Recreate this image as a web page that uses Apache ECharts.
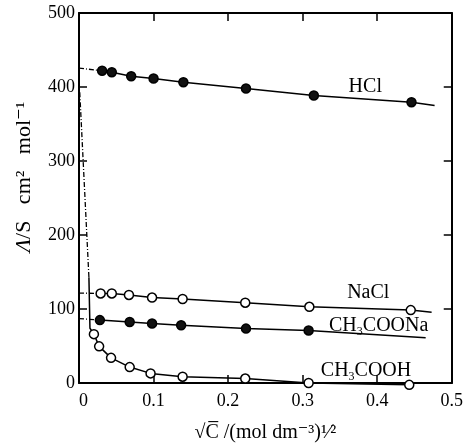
<!DOCTYPE html>
<html lang="en">
<head>
    <meta charset="UTF-8">
    <title>Molar conductivity vs sqrt(C)</title>
    <style>
        html, body { margin: 0; padding: 0; background: #fff; }
        #main { width: 466px; height: 448px; }
    </style>
</head>
<body>
<div id="main"></div>
<script src="https://cdn.jsdelivr.net/npm/echarts@6/dist/echarts.min.js"></script>
<script>
    // measured points: x = sqrt(C), y = molar conductivity
    const hclX = [0.031, 0.044, 0.070, 0.100, 0.140, 0.224, 0.315, 0.446];
    const hclY = [422, 420, 414.5, 411.5, 406.5, 398, 388.5, 379.5];

    const naclX = [0.029, 0.044, 0.067, 0.098, 0.139, 0.223, 0.309, 0.445];
    const naclY = [121, 121, 119, 115.5, 113.5, 108.5, 103, 98.5];

    const naacX = [0.028, 0.068, 0.098, 0.137, 0.224, 0.308];
    const naacY = [85, 82.5, 80.5, 78, 73.5, 71];

    const hacX = [0.020, 0.027, 0.043, 0.068, 0.096, 0.139, 0.223, 0.308, 0.443];
    const hacY = [66, 49.5, 34, 21.5, 13, 8.5, 6, 0, -2.5];

    // extrapolated limits at sqrt(C) = 0 and right-hand line ends
    const hclLimit = [0, 425.5], hclEnd = [0.477, 375];
    const naclLimit = [0, 121.5], naclEnd = [0.473, 95.5];
    const naacLimit = [0, 87], naacEnd = [0.465, 61];
    // acetic acid: dotted rise toward the axis and the solid steep part
    const hacDotted = [[0.001, 393], [0.0133, 143]];
    const hacSteep = [[0.0133, 143], [0.0147, 74]];

    const xTicks = [0, 0.1, 0.2, 0.3, 0.4, 0.5];
    const yTicks = [0, 100, 200, 300, 400, 500];
    const names = ['HCl', 'NaCl', 'CH{s|3}COONa', 'CH{s|3}COOH'];

    const FONT = '"Liberation Serif", "DejaVu Serif", serif';
    const zip = (xs, ys) => xs.map((x, i) => [x, ys[i]]);
    const dashDot = [5, 2, 1, 2];

    function fitLine(limit, pts, end) {
        return [
            { type: 'line', data: [limit, pts[0]], symbol: 'none', silent: true,
              lineStyle: { color: '#000', width: 1.3, type: dashDot } },
            { type: 'line', data: [pts[0]].concat(pts.slice(1), [end]), symbol: 'none', silent: true,
              lineStyle: { color: '#000', width: 1.5 } }
        ];
    }
    function dots(pts, filled) {
        return { type: 'scatter', data: pts, symbol: 'circle', symbolSize: 9, clip: false, z: 5,
                 itemStyle: { color: filled ? '#111' : '#fff', borderColor: '#000', borderWidth: 1.5, opacity: 1 } };
    }

    const hcl = zip(hclX, hclY), nacl = zip(naclX, naclY);
    const naac = zip(naacX, naacY), hac = zip(hacX, hacY);

    const series = [].concat(
        fitLine(hclLimit, hcl, hclEnd),
        fitLine(naclLimit, nacl, naclEnd),
        fitLine(naacLimit, naac, naacEnd),
        [
            { type: 'line', data: hacDotted, symbol: 'none', silent: true,
              lineStyle: { color: '#000', width: 1.3, type: dashDot } },
            { type: 'line', data: hacSteep.concat(hac), symbol: 'none', silent: true, clip: false,
              lineStyle: { color: '#000', width: 1.5 } }
        ],
        dots(hcl, true), dots(nacl, false), dots(naac, true), dots(hac, false),
        {
            type: 'scatter', symbolSize: 0, silent: true, clip: false,
            itemStyle: { opacity: 1 },
            data: [[0.384, 401], [0.388, 122], [0.402, 77], [0.385, 16.5]],
            label: {
                show: true, position: 'inside', color: '#000', opacity: 1,
                formatter: p => names[p.dataIndex],
                fontFamily: FONT, fontSize: 20,
                rich: { s: { color: '#000', fontFamily: FONT, fontSize: 12, verticalAlign: 'bottom', padding: [12, 0, 0, 0] } }
            }
        }
    );

    const tickLine = { show: true, inside: true, length: 8, lineStyle: { color: '#000', width: 1.5 } };
    const frame = { show: true, onZero: false, lineStyle: { color: '#000', width: 2 } };
    const xBase = { type: 'value', min: xTicks[0], max: xTicks[xTicks.length - 1], interval: 0.1,
                    axisLine: frame, axisTick: tickLine, splitLine: { show: false } };
    const yBase = { type: 'value', min: yTicks[0], max: yTicks[yTicks.length - 1], interval: 100,
                    axisLine: frame, axisTick: tickLine, splitLine: { show: false } };

    const myChart = echarts.init(document.getElementById('main'), null, { renderer: 'canvas' });
    myChart.setOption({
        animation: false,
        backgroundColor: '#fff',
        grid: { left: 79, right: 12, top: 13, bottom: 61 },
        xAxis: [
            Object.assign({}, xBase, {
                position: 'bottom',
                axisLabel: { color: '#000', fontFamily: FONT, fontSize: 18, margin: 9, alignMinLabel: 'left',
                             formatter: v => (v === 0 ? '0' : v.toFixed(1)) },
                name: '√C̅ /(mol dm⁻³)¹⁄²', nameLocation: 'middle', nameGap: 40,
                nameTextStyle: { color: '#000', fontFamily: FONT, fontSize: 20 }
            }),
            Object.assign({}, xBase, { position: 'top', axisLabel: { show: false } })
        ],
        yAxis: [
            Object.assign({}, yBase, {
                position: 'left',
                axisLabel: { color: '#000', fontFamily: FONT, fontSize: 18, margin: 4 },
                name: '{i|Λ}/S   cm²   mol⁻¹', nameLocation: 'middle', nameGap: 44,
                nameTextStyle: { color: '#000', fontFamily: FONT, fontSize: 22, padding: [0, 0, 0, 42],
                                 rich: { i: { fontFamily: FONT, fontSize: 22, fontStyle: 'italic' } } }
            }),
            Object.assign({}, yBase, { position: 'right', axisLabel: { show: false } })
        ],
        series: series
    });
</script>
</body>
</html>
